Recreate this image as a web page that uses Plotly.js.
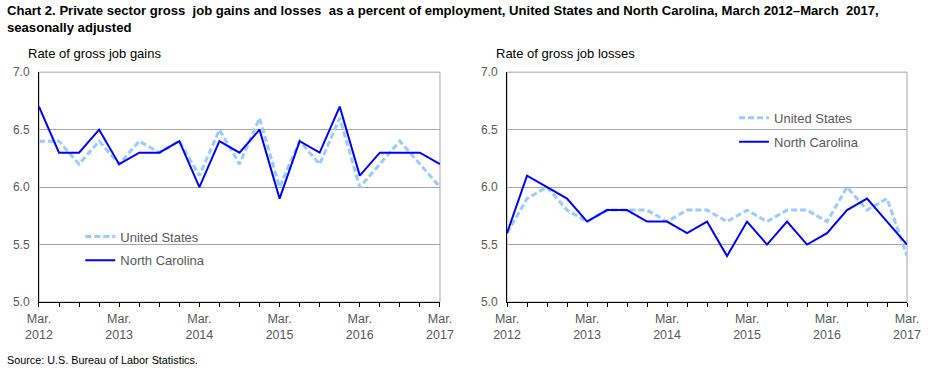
<!DOCTYPE html>
<html>
<head>
<meta charset="utf-8">
<script src="https://cdn.plot.ly/plotly-3.0.1.min.js"></script>
<style>html,body{margin:0;padding:0;background:#fff}#chart{width:930px;height:372px}</style>
</head>
<body>
<div id="chart"></div>
<script>
// Quarterly periods, March 2012 – March 2017
const quarters = ["Mar 2012","Jun 2012","Sep 2012","Dec 2012","Mar 2013","Jun 2013","Sep 2013","Dec 2013",
  "Mar 2014","Jun 2014","Sep 2014","Dec 2014","Mar 2015","Jun 2015","Sep 2015","Dec 2015",
  "Mar 2016","Jun 2016","Sep 2016","Dec 2016","Mar 2017"];
const tickLabels = ["Mar.<br>2012","","","","Mar.<br>2013","","","","Mar.<br>2014","","","",
  "Mar.<br>2015","","","","Mar.<br>2016","","","","Mar.<br>2017"];
const yTicks = [5.0, 5.5, 6.0, 6.5, 7.0];
const yTickLabels = ["5.0","5.5","6.0","6.5","7.0"];

const gainsUS = [6.4,6.4,6.2,6.4,6.2,6.4,6.3,6.4,6.1,6.5,6.2,6.6,6.0,6.4,6.2,6.6,6.0,6.2,6.4,6.2,6.0];
const gainsNC = [6.7,6.3,6.3,6.5,6.2,6.3,6.3,6.4,6.0,6.4,6.3,6.5,5.9,6.4,6.3,6.7,6.1,6.3,6.3,6.3,6.2];
const lossesUS = [5.6,5.9,6.0,5.8,5.7,5.8,5.8,5.8,5.7,5.8,5.8,5.7,5.8,5.7,5.8,5.8,5.7,6.0,5.8,5.9,5.4];
const lossesNC = [5.6,6.1,6.0,5.9,5.7,5.8,5.8,5.7,5.7,5.6,5.7,5.4,5.7,5.5,5.7,5.5,5.6,5.8,5.9,5.7,5.5];

const xs = quarters.map((q, i) => i);
const usStyle = {color: '#99ccff', width: 3, dash: '6px,3px'};
const ncStyle = {color: '#0000ff', width: 2};

const data = [
  {x: xs, y: gainsUS, text: quarters, type: 'scatter', mode: 'lines', name: 'United States', line: usStyle,
   xaxis: 'x', yaxis: 'y', legend: 'legend', legendgroup: 'a'},
  {x: xs, y: gainsNC, text: quarters, type: 'scatter', mode: 'lines', name: 'North Carolina', line: ncStyle,
   xaxis: 'x', yaxis: 'y', legend: 'legend', legendgroup: 'b'},
  {x: xs, y: lossesUS, text: quarters, type: 'scatter', mode: 'lines', name: 'United States', line: usStyle,
   xaxis: 'x2', yaxis: 'y2', legend: 'legend2', legendgroup: 'c'},
  {x: xs, y: lossesNC, text: quarters, type: 'scatter', mode: 'lines', name: 'North Carolina', line: ncStyle,
   xaxis: 'x2', yaxis: 'y2', legend: 'legend2', legendgroup: 'd'}
];

const tickFont = {family: 'Arial, Liberation Sans, sans-serif', size: 12.5, color: '#595959'};
function xAxis(domain, anchor) {
  return {domain: domain, anchor: anchor, range: [0, 20], tickmode: 'array', tickvals: xs, ticktext: tickLabels,
    ticks: 'outside', ticklen: 4, tickcolor: '#000', tickwidth: 1, showline: true, linecolor: '#000', linewidth: 1,
    showgrid: false, zeroline: false, tickfont: tickFont, tickangle: 0, ticklabelstandoff: 1, fixedrange: true};
}
function yAxis(domain, anchor) {
  return {domain: domain, anchor: anchor, range: [5, 7], tickmode: 'array', tickvals: yTicks, ticktext: yTickLabels,
    ticks: '', showline: true, linecolor: '#000', linewidth: 1, showgrid: true, gridcolor: '#a6a6a6', gridwidth: 1,
    zeroline: false, tickfont: {family: 'Arial, Liberation Sans, sans-serif', size: 12, color: '#595959'},
    ticklabelstandoff: 6, fixedrange: true};
}
const yDom = [0.188, 0.806];
const layout = {
  width: 930, height: 372,
  margin: {l: 0, r: 0, t: 0, b: 0},
  paper_bgcolor: '#fff', plot_bgcolor: '#fff',
  font: {family: 'Arial, Liberation Sans, sans-serif', size: 12, color: '#000'},
  xaxis: xAxis([0.0419, 0.4731], 'y'),
  yaxis: yAxis(yDom, 'x'),
  xaxis2: xAxis([0.5452, 0.9753], 'y2'),
  yaxis2: yAxis(yDom, 'x2'),
  showlegend: true,
  legend: {x: 0.0863, y: 0.332, xanchor: 'left', yanchor: 'middle', bgcolor: 'rgba(0,0,0,0)',
    font: {size: 13, color: '#595959'}, traceorder: 'grouped', tracegroupgap: 4, itemwidth: 30},
  legend2: {x: 0.7893, y: 0.651, xanchor: 'left', yanchor: 'middle', bgcolor: 'rgba(0,0,0,0)',
    font: {size: 13, color: '#595959'}, traceorder: 'grouped', tracegroupgap: 4, itemwidth: 30},
  shapes: [
    {type: 'rect', xref: 'x domain', yref: 'y domain', x0: 0, x1: 1, y0: 0, y1: 1, line: {color: '#a6a6a6', width: 1}, layer: 'below'},
    {type: 'rect', xref: 'x2 domain', yref: 'y2 domain', x0: 0, x1: 1, y0: 0, y1: 1, line: {color: '#a6a6a6', width: 1}, layer: 'below'}
  ],
  annotations: [
    {xref: 'paper', yref: 'paper', x: 0.005, y: 0.997, xanchor: 'left', yanchor: 'top', align: 'left', showarrow: false,
     text: '<b>Chart 2. Private sector gross  job gains and losses  as a percent of employment, United States and North Carolina, March 2012–March  2017,<br>seasonally adjusted</b>',
     font: {size: 13.1, color: '#000'}},
    {xref: 'paper', yref: 'paper', x: 0.028, y: 0.855, xanchor: 'left', yanchor: 'middle', showarrow: false,
     text: 'Rate of gross job gains', font: {size: 13, color: '#000'}},
    {xref: 'paper', yref: 'paper', x: 0.531, y: 0.855, xanchor: 'left', yanchor: 'middle', showarrow: false,
     text: 'Rate of gross job losses', font: {size: 13, color: '#000'}},
    {xref: 'paper', yref: 'paper', x: 0.005, y: 0.033, xanchor: 'left', yanchor: 'middle', showarrow: false,
     text: 'Source: U.S. Bureau of Labor Statistics.', font: {size: 10.8, color: '#000'}}
  ]
};
Plotly.newPlot('chart', data, layout, {displayModeBar: false, staticPlot: true});
</script>
</body>
</html>
